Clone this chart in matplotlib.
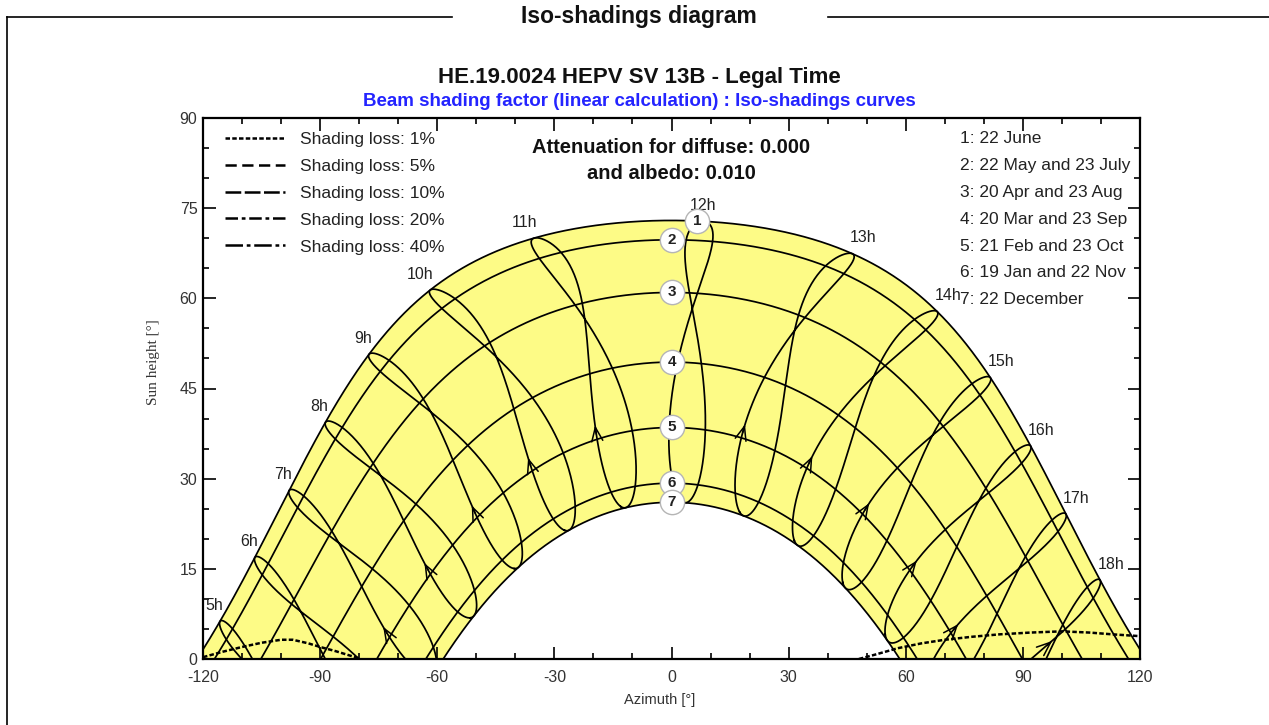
"""
Iso-shadings diagram: sun paths, hour lines and the 1% shading loss line.
"""

import numpy as np
import matplotlib.pyplot as plt
from matplotlib.lines import Line2D

plt.rcParams["font.family"] = ["Liberation Sans", "DejaVu Sans"]
plt.rcParams["axes.unicode_minus"] = False

# Site parameters (noon heights and hour line positions)
LATITUDE = 40.5          # deg N
CLOCK_SHIFT_MIN = 12.0   # legal time + shift + equation of time = solar time

# Date curves (day of year); curves 2-6 hold two dates each
curve_ids = ["1", "2", "3", "4", "5", "6", "7"]
curve_days = [(173,), (142, 204), (110, 235), (79, 266), (52, 296), (19, 326), (356,)]
curve_legend = [
    "1: 22 June",
    "2: 22 May and 23 July",
    "3: 20 Apr and 23 Aug",
    "4: 20 Mar and 23 Sep",
    "5: 21 Feb and 23 Oct",
    "6: 19 Jan and 22 Nov",
    "7: 22 December",
]
marker_az = [6.5, 0, 0, 0, 0, 0, 0]

# Hour lines (legal time) and the day where the direction arrow sits
hours = [5, 6, 7, 8, 9, 10, 11, 12, 13, 14, 15, 16, 17, 18]
arrow_days = {7: 58, 8: 58, 9: 58, 10: 58, 11: 58, 12: 58, 13: 58,
              14: 58, 15: 58, 16: 58, 17: 58, 18: 100}

# Shading loss 1% curves (azimuth, height)
loss_left_az = [-120, -115, -110, -105, -100, -97, -93, -90, -86, -83, -80]
loss_left_h = [0.3, 1.2, 2.0, 2.7, 3.2, 3.2, 2.6, 2.0, 1.3, 0.7, 0.1]
loss_right_az = [48, 52, 58, 64, 70, 77, 84, 92, 100, 107, 113, 120]
loss_right_h = [0.0, 0.7, 1.8, 2.6, 3.2, 3.7, 4.1, 4.4, 4.6, 4.4, 4.1, 3.8]

loss_labels = ["Shading loss: 1%", "Shading loss: 5%", "Shading loss: 10%",
               "Shading loss: 20%", "Shading loss: 40%"]
loss_dashes = [(1.8, 0.9), (4.5, 2.2), (6.3, 1.4), (5, 1.5, 1.5, 1.5), (7, 1.5, 1.5, 1.5)]

YELLOW = "#fdfb86"


def declination(day):
    g = 2 * np.pi * (np.asarray(day, dtype=float) - 1) / 365
    return np.degrees(0.006918 - 0.399912 * np.cos(g) + 0.070257 * np.sin(g)
                      - 0.006758 * np.cos(2 * g) + 0.000907 * np.sin(2 * g)
                      - 0.002697 * np.cos(3 * g) + 0.00148 * np.sin(3 * g))


def eq_of_time(day):
    g = 2 * np.pi * (np.asarray(day, dtype=float) - 1) / 365
    return 229.18 * (0.000075 + 0.001868 * np.cos(g) - 0.032077 * np.sin(g)
                     - 0.014615 * np.cos(2 * g) - 0.040849 * np.sin(2 * g))


def sun_pos(hour_angle, decl):
    lat = np.radians(LATITUDE)
    H = np.radians(hour_angle)
    d = np.radians(decl)
    h = np.arcsin(np.sin(lat) * np.sin(d) + np.cos(lat) * np.cos(d) * np.cos(H))
    az = np.arctan2(np.sin(H), np.cos(H) * np.sin(lat) - np.tan(d) * np.cos(lat))
    return np.degrees(az), np.degrees(h)


def hour_angle(legal_hour, day):
    solar = legal_hour + (CLOCK_SHIFT_MIN + eq_of_time(day)) / 60
    return 15 * (solar - 12)


fig = plt.figure(figsize=(12.69, 7.25), dpi=100)
ax = fig.add_axes([203 / 1269, 66 / 725, 937 / 1269, 541 / 725])

# Date curves
H_sweep = np.linspace(-179.5, 179.5, 1500)
paths = []
for days in curve_days:
    d = np.mean([declination(x) for x in days])
    paths.append(sun_pos(H_sweep, d))

ax.fill(np.r_[paths[0][0], paths[-1][0][::-1]],
        np.r_[paths[0][1], paths[-1][1][::-1]],
        color=YELLOW, lw=0, zorder=1)
for az, h in paths:
    ax.plot(az, h, color="black", lw=1.25, zorder=3)

# Hour lines (analemmas over the whole year)
year = np.arange(1, 367)
for hr in hours:
    az, h = sun_pos(hour_angle(hr, year), declination(year))
    ax.plot(az, h, color="black", lw=1.25, zorder=3)

    # hour label above the June point
    az_j, h_j = sun_pos(hour_angle(hr, 173), declination(173))
    if hr < 12:
        ha, dx = "right", 2
    elif hr > 12:
        ha, dx = "left", -2
    else:
        ha, dx = "center", 0
    ax.annotate(f"{hr}h", (az_j, h_j), xytext=(dx, 6), textcoords="offset points",
                ha=ha, va="bottom", fontsize=11.5, color="#222222", zorder=6)

    if hr in arrow_days:
        day = arrow_days[hr]
        a0 = sun_pos(hour_angle(hr, day - 4), declination(day - 4))
        a1 = sun_pos(hour_angle(hr, day), declination(day))
        ax.annotate("", xy=a1, xytext=a0,
                    arrowprops=dict(arrowstyle="->,head_length=1.0,head_width=0.4",
                                    color="black", lw=1.1, shrinkA=0, shrinkB=0),
                    zorder=4)

# Shading loss 1%
for xs, ys in [(loss_left_az, loss_left_h), (loss_right_az, loss_right_h)]:
    ax.plot(xs, ys, color="black", lw=1.8, dashes=loss_dashes[0], zorder=5)

# Numbered date markers
for cid, days, maz in zip(curve_ids, curve_days, marker_az):
    d = np.mean([declination(x) for x in days])
    az_c, h_c = sun_pos(H_sweep, d)
    hm = np.interp(maz, az_c, h_c)
    ax.plot(maz, hm, "o", ms=17.5, mfc="white", mec="#b5b5b5", mew=1.0, zorder=7)
    ax.text(maz, hm, cid, ha="center", va="center", fontsize=11,
            fontweight="bold", color="#222222", zorder=8)

# Legend for the shading loss line styles
handles = [Line2D([], [], color="black", lw=1.8, dashes=ds) for ds in loss_dashes]
ax.legend(handles, loss_labels, loc="upper left", bbox_to_anchor=(0.0235, 0.975),
          frameon=False, fontsize=12.5, handlelength=3.45, handletextpad=0.85,
          labelspacing=0.68, borderpad=0, borderaxespad=0, labelcolor="#222222")

# Date legend on the right
for i, txt in enumerate(curve_legend):
    ax.text(0.808, 0.962 - i * 0.0497, txt, transform=ax.transAxes, fontsize=12.5,
            va="center", ha="left", color="#222222", zorder=6)

ax.text(0.5, 0.945, "Attenuation for diffuse: 0.000", transform=ax.transAxes,
        ha="center", va="center", fontsize=14.5, fontweight="bold", color="#111111")
ax.text(0.5, 0.897, "and albedo: 0.010", transform=ax.transAxes,
        ha="center", va="center", fontsize=14.5, fontweight="bold", color="#111111")

# Axes styling
ax.set_xlim(-120, 120)
ax.set_ylim(0, 90)
ax.set_xticks(np.arange(-120, 121, 30))
ax.set_xticks(np.arange(-120, 121, 10), minor=True)
ax.set_yticks(np.arange(0, 91, 15))
ax.set_yticks(np.arange(0, 91, 5), minor=True)
ax.tick_params(which="both", direction="in", top=True, right=True, width=1.2,
               colors="black", labelcolor="#333333", labelsize=11.5)
ax.tick_params(which="major", length=9)
ax.tick_params(which="minor", length=4.5)
ax.tick_params(axis="x", pad=8)
ax.tick_params(axis="y", pad=4)
for sp in ax.spines.values():
    sp.set_linewidth(1.6)
    sp.set_zorder(9)

fig.text(660 / 1269, 1 - 700 / 725, "Azimuth [°]", ha="center", va="center",
         fontsize=10.5, color="#333333")
fig.text(153 / 1269, 1 - 362 / 725, "Sun height [°]", ha="center", va="center",
         rotation=90, fontsize=11, family="Liberation Serif", color="#333333")

# Titles
fig.text(639 / 1269, 1 - 77 / 725, "HE.19.0024 HEPV SV 13B - Legal Time",
         ha="center", va="center", fontsize=16, fontweight="bold", color="#111111")
fig.text(639 / 1269, 1 - 101 / 725,
         "Beam shading factor (linear calculation) : Iso-shadings curves",
         ha="center", va="center", fontsize=13.5, fontweight="bold", color="#2424ff")
fig.text(639 / 1269, 1 - 16 / 725, "Iso-shadings diagram", ha="center", va="center",
         fontsize=16.5, fontweight="bold", color="#111111")

# Outer frame around the report block
y_top = 1 - 17 / 725
fig.add_artist(Line2D([7 / 1269, 452 / 1269], [y_top, y_top], color="black", lw=1.2))
fig.add_artist(Line2D([828 / 1269, 1.0], [y_top, y_top], color="black", lw=1.2))
fig.add_artist(Line2D([7 / 1269, 7 / 1269], [y_top, 0], color="black", lw=1.2))

fig.savefig("out.png", dpi=100)
plt.close(fig)
